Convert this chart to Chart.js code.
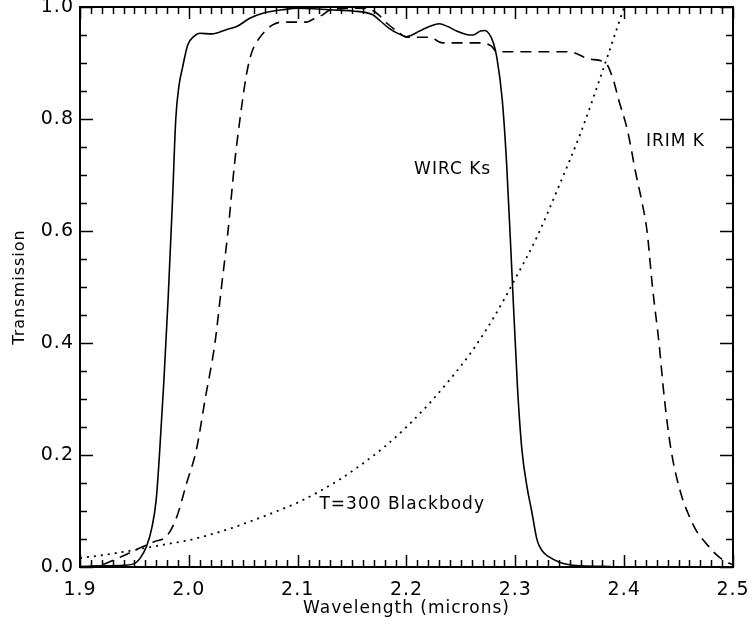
<!DOCTYPE html>
<html>
<head>
<meta charset="utf-8">
<script src="https://cdn.jsdelivr.net/npm/chart.js@4/dist/chart.umd.min.js"></script>
<style>
html,body{margin:0;padding:0;background:#fff;}
canvas{display:block;}
</style>
</head>
<body>
<canvas id="c" width="749" height="628"></canvas>
<script>
// ---- Data ----
const xTickValues = [1.9, 2.0, 2.1, 2.2, 2.3, 2.4, 2.5];
const yTickValues = [0.0, 0.2, 0.4, 0.6, 0.8, 1.0];

const wircLabel = "WIRC Ks";
const wircX = [1.90,1.92,1.94,1.95,1.955,1.961,1.966,1.970,1.973,1.977,1.981,1.985,1.988,1.991,1.994,1.999,2.005,2.010,2.021,2.035,2.044,2.056,2.068,2.086,2.100,2.115,2.129,2.150,2.169,2.176,2.184,2.193,2.200,2.212,2.222,2.230,2.238,2.246,2.255,2.261,2.268,2.272,2.276,2.280,2.283,2.288,2.292,2.297,2.302,2.306,2.311,2.315,2.320,2.325,2.331,2.340,2.347,2.360,2.388];
const wircY = [0.001,0.002,0.003,0.006,0.015,0.036,0.070,0.120,0.200,0.330,0.480,0.655,0.800,0.860,0.890,0.932,0.948,0.953,0.952,0.960,0.965,0.980,0.989,0.995,0.998,0.997,0.995,0.993,0.986,0.975,0.962,0.952,0.947,0.957,0.966,0.970,0.965,0.957,0.951,0.950,0.957,0.958,0.952,0.935,0.910,0.834,0.720,0.520,0.320,0.210,0.140,0.100,0.048,0.028,0.018,0.009,0.005,0.002,0.001];

const irimLabel = "IRIM K";
const irimX = [1.905,1.918,1.934,1.955,1.968,1.980,1.989,1.998,2.007,2.015,2.024,2.030,2.036,2.042,2.047,2.053,2.058,2.065,2.077,2.086,2.108,2.114,2.123,2.130,2.154,2.165,2.175,2.182,2.192,2.200,2.221,2.233,2.270,2.278,2.283,2.350,2.368,2.383,2.390,2.395,2.403,2.411,2.416,2.421,2.426,2.432,2.437,2.443,2.452,2.460,2.466,2.478,2.487,2.496,2.500];
const irimY = [0.000,0.003,0.015,0.034,0.045,0.056,0.090,0.150,0.210,0.300,0.400,0.500,0.600,0.720,0.800,0.880,0.920,0.945,0.968,0.973,0.973,0.978,0.986,0.995,0.998,0.997,0.985,0.971,0.956,0.946,0.946,0.936,0.936,0.930,0.920,0.920,0.907,0.900,0.870,0.834,0.780,0.700,0.655,0.600,0.500,0.400,0.300,0.210,0.132,0.090,0.066,0.036,0.018,0.007,0.004];

const bbLabel = "T=300 Blackbody";
const bbX = [1.90,1.92,1.94,1.96,1.98,2.00,2.02,2.04,2.06,2.08,2.10,2.12,2.14,2.16,2.18,2.20,2.22,2.24,2.26,2.28,2.30,2.32,2.34,2.36,2.38,2.40];
const bbY = [0.016,0.021,0.027,0.034,0.041,0.048,0.058,0.070,0.084,0.099,0.115,0.135,0.158,0.185,0.215,0.250,0.290,0.335,0.385,0.445,0.515,0.590,0.680,0.775,0.885,1.000];

const xTitle = "Wavelength (microns)";
const yTitle = "Transmission";

// ---- helpers ----
const toPts = (xs, ys) => xs.map((x, i) => ({x: x, y: ys[i]}));
const FONT = "'DejaVu Sans', sans-serif";

const textLabels = [
  {text: wircLabel, x: 2.207, y: 0.709},
  {text: irimLabel, x: 2.420, y: 0.759},
  {text: bbLabel,   x: 2.120, y: 0.111}
];

const spacingPlugin = {
  id: 'spacing',
  beforeLayout(chart) { chart.ctx.letterSpacing = '1px'; },
  beforeDraw(chart) { chart.ctx.letterSpacing = '1px'; }
};

const framePlugin = {
  id: 'frame',
  afterDraw(chart) {
    const ctx = chart.ctx;
    const xs = chart.scales.x, ys = chart.scales.y;
    const L = xs.getPixelForValue(1.9), R = xs.getPixelForValue(2.5);
    const T = ys.getPixelForValue(1.0), B = ys.getPixelForValue(0.0);
    ctx.save();
    ctx.strokeStyle = '#000';
    // ticks
    ctx.lineWidth = 1.5;
    ctx.beginPath();
    for (let i = 0; i <= 60; i++) {
      const v = 1.9 + i * 0.01;
      const px = Math.round(xs.getPixelForValue(v)) + 0.5;
      const len = (i % 10 === 0) ? 12 : 7;
      ctx.moveTo(px, B); ctx.lineTo(px, B - len);
      ctx.moveTo(px, T); ctx.lineTo(px, T + len);
    }
    for (let i = 0; i <= 20; i++) {
      const v = i * 0.05;
      const py = Math.round(ys.getPixelForValue(v)) + 0.5;
      const len = (i % 4 === 0) ? 13 : 7;
      ctx.moveTo(L, py); ctx.lineTo(L + len, py);
      ctx.moveTo(R, py); ctx.lineTo(R - len, py);
    }
    ctx.stroke();
    // box
    ctx.lineWidth = 2;
    ctx.strokeRect(L, T, R - L, B - T);
    // text labels
    ctx.fillStyle = '#000';
    ctx.font = '17px ' + FONT;
    ctx.textAlign = 'left';
    ctx.textBaseline = 'middle';
    ctx.letterSpacing = '1px';
    textLabels.forEach(t => {
      ctx.fillText(t.text, xs.getPixelForValue(t.x), ys.getPixelForValue(t.y));
    });
    ctx.restore();
  }
};

new Chart(document.getElementById('c'), {
  type: 'line',
  data: {
    datasets: [
      {label: wircLabel, data: toPts(wircX, wircY), borderColor: '#000', borderWidth: 1.6,
       pointRadius: 0, fill: false, cubicInterpolationMode: 'monotone'},
      {label: irimLabel, data: toPts(irimX, irimY), borderColor: '#000', borderWidth: 1.6,
       borderDash: [11, 7], pointRadius: 0, fill: false, cubicInterpolationMode: 'monotone'},
      {label: bbLabel, data: toPts(bbX, bbY), borderColor: '#000', borderWidth: 1.8,
       borderDash: [2, 5], pointRadius: 0, fill: false, cubicInterpolationMode: 'monotone'}
    ]
  },
  options: {
    responsive: false,
    animation: false,
    devicePixelRatio: 1,
    layout: {padding: {top: 7, right: 16, left: 0, bottom: 0}},
    plugins: {legend: {display: false}, tooltip: {enabled: false}},
    scales: {
      x: {
        type: 'linear', min: 1.9, max: 2.5,
        afterBuildTicks: s => { s.ticks = xTickValues.map(v => ({value: v})); },
        grid: {display: false, drawTicks: false},
        border: {display: false},
        ticks: {color: '#000', font: {family: FONT, size: 19}, padding: 12, maxRotation: 0,
                autoSkip: false, callback: v => Number(v).toFixed(1)},
        title: {display: true, text: xTitle, color: '#000', font: {family: FONT, size: 17},
                padding: {top: 0, bottom: 9}},
        afterFit: s => { s.height = 61; s.paddingLeft = 0; s.paddingRight = 0; s.paddingTop = 0; s.paddingBottom = 0; }
      },
      y: {
        type: 'linear', min: 0, max: 1.0,
        afterBuildTicks: s => { s.ticks = yTickValues.map(v => ({value: v})); },
        grid: {display: false, drawTicks: false},
        border: {display: false},
        ticks: {color: '#000', font: {family: FONT, size: 19}, padding: 6,
                autoSkip: false, callback: v => Number(v).toFixed(1)},
        title: {display: true, text: yTitle, color: '#000', font: {family: FONT, size: 16},
                padding: {top: 10, bottom: 0}},
        afterFit: s => { s.width = 80; s.paddingLeft = 0; s.paddingRight = 0; s.paddingTop = 0; s.paddingBottom = 0; }
      }
    }
  },
  plugins: [spacingPlugin, framePlugin]
});
</script>
</body>
</html>
